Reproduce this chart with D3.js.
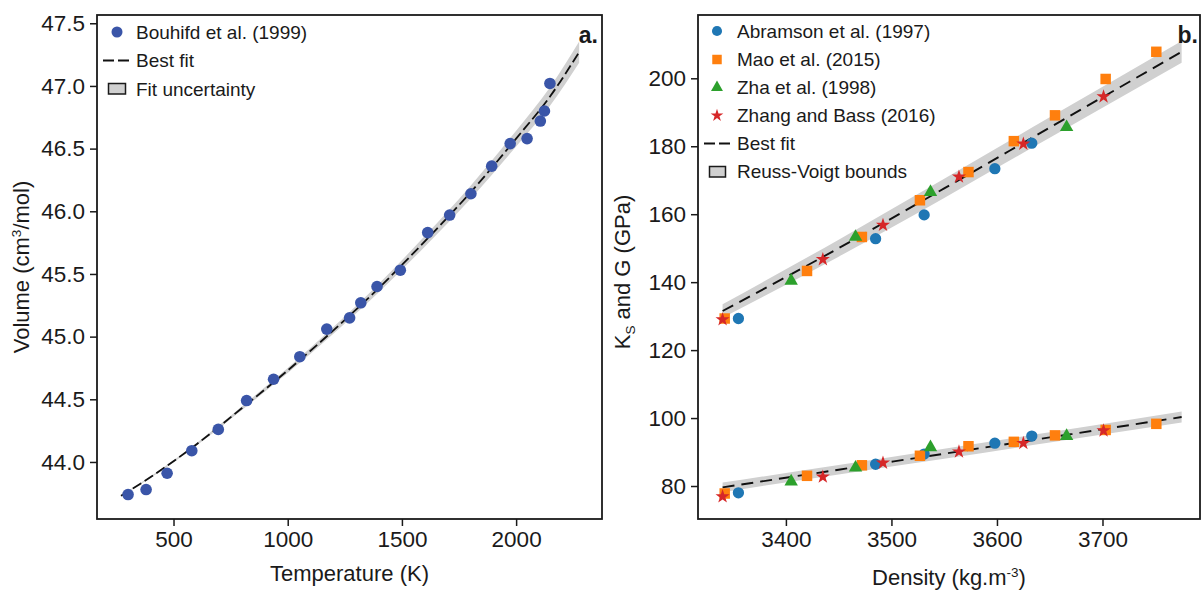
<!DOCTYPE html>
<html><head><meta charset="utf-8">
<script src="https://cdn.jsdelivr.net/npm/d3@7"></script>
<style>
html,body{margin:0;padding:0;background:#fff;}
svg text{font-family:"Liberation Sans",Arial,sans-serif;fill:#1a1a1a;}
</style></head>
<body><svg id="chart" width="1203" height="592"></svg>
<script>
// ---------- Panel a data ----------
const tempK = [301, 380, 472, 580, 696, 820, 938, 1053, 1171, 1271, 1320, 1391, 1493, 1613, 1709, 1802, 1893, 1974, 2048, 2106, 2124, 2148];
const volume = [43.74, 43.78, 43.91, 44.09, 44.26, 44.49, 44.66, 44.84, 45.06, 45.15, 45.27, 45.40, 45.53, 45.83, 45.97, 46.14, 46.36, 46.54, 46.58, 46.72, 46.80, 47.02];
const fitT = [270, 400, 600, 800, 1000, 1200, 1400, 1600, 1800, 2000, 2150, 2276];
const fitV = [43.73, 43.88, 44.14, 44.43, 44.73, 45.05, 45.39, 45.76, 46.15, 46.58, 46.92, 47.27];
const fitVerr = [0.004, 0.006, 0.010, 0.015, 0.020, 0.027, 0.034, 0.042, 0.052, 0.063, 0.074, 0.085];
const xTicksA = [500, 1000, 1500, 2000];
const yTicksA = [44.0, 44.5, 45.0, 45.5, 46.0, 46.5, 47.0, 47.5];

// ---------- Panel b data ----------
const abramsonRho = [3355, 3485, 3531, 3598, 3633];
const abramsonKs  = [129.3, 152.8, 159.8, 173.4, 180.9];
const abramsonG   = [78.0, 86.4, 89.4, 92.6, 94.7];
const maoRho = [3342, 3420, 3472, 3527, 3573, 3616, 3655, 3703, 3751];
const maoKs  = [129.3, 143.3, 153.3, 164.1, 172.4, 181.5, 189.1, 199.8, 207.8];
const maoG   = [77.8, 83.0, 86.1, 88.9, 91.7, 93.0, 94.9, 96.5, 98.3];
const zhaRho = [3405, 3466, 3537, 3666];
const zhaKs  = [140.4, 153.3, 166.5, 185.6];
const zhaG   = [81.3, 85.4, 91.4, 94.7];
const zhangRho = [3340, 3435, 3492, 3564, 3625, 3701];
const zhangKs  = [129.0, 146.7, 156.8, 171.0, 180.7, 194.6];
const zhangG   = [76.9, 82.7, 86.8, 90.1, 92.6, 96.3];
const fitRho = [3340, 3450, 3550, 3650, 3775];
const fitKs  = [131.5, 150.0, 167.6, 185.5, 207.8];
const fitKsErr = [2.0, 2.5, 2.8, 3.0, 3.2];
const fitG   = [79.6, 84.8, 89.5, 94.3, 100.3];
const fitGErr = [1.4, 1.4, 1.5, 1.5, 1.6];
const xTicksB = [3400, 3500, 3600, 3700];
const yTicksB = [80, 100, 120, 140, 160, 180, 200];

const svg = d3.select("#chart");
const BAND = "#d0d0d0";
const TICKFS = 22.5, LABELFS = 22, LEGFS = 19;

function frameAxes(g, x, y, xt, yt, xfmt, yfmt, box) {
  g.append("g").attr("transform", `translate(0,${box.b})`)
    .call(d3.axisBottom(x).tickValues(xt).tickFormat(xfmt).tickSize(7).tickPadding(5))
    .call(a => a.select(".domain").remove())
    .call(a => a.selectAll("line").attr("stroke", "#1a1a1a").attr("stroke-width", 1.5))
    .call(a => a.selectAll("text").attr("font-size", TICKFS).attr("fill", "#1a1a1a").attr("font-family", "Liberation Sans, Arial, sans-serif"));
  g.append("g").attr("transform", `translate(${box.l},0)`)
    .call(d3.axisLeft(y).tickValues(yt).tickFormat(yfmt).tickSize(7).tickPadding(5))
    .call(a => a.select(".domain").remove())
    .call(a => a.selectAll("line").attr("stroke", "#1a1a1a").attr("stroke-width", 1.5))
    .call(a => a.selectAll("text").attr("font-size", TICKFS).attr("fill", "#1a1a1a").attr("font-family", "Liberation Sans, Arial, sans-serif"));
  g.append("rect").attr("x", box.l).attr("y", box.t)
    .attr("width", box.r - box.l).attr("height", box.b - box.t)
    .attr("fill", "none").attr("stroke", "#1a1a1a").attr("stroke-width", 1.8);
}

// ================= Panel a =================
{
  const box = {l: 97, r: 602, t: 15, b: 519};
  const x = d3.scaleLinear().domain([165, 2376]).range([box.l, box.r]);
  const y = d3.scaleLinear().domain([43.545, 47.566]).range([box.b, box.t]);
  const g = svg.append("g");
  const idx = d3.range(fitT.length);
  g.append("path").datum(idx)
    .attr("d", d3.area().curve(d3.curveMonotoneX)
      .x(i => x(fitT[i])).y0(i => y(fitV[i] - fitVerr[i])).y1(i => y(fitV[i] + fitVerr[i])))
    .attr("fill", BAND);
  g.append("path").datum(idx)
    .attr("d", d3.line().curve(d3.curveMonotoneX).x(i => x(fitT[i])).y(i => y(fitV[i])))
    .attr("fill", "none").attr("stroke", "#111").attr("stroke-width", 1.8).attr("stroke-dasharray", "10,4");
  g.selectAll("circle.pt").data(tempK).join("circle")
    .attr("cx", d => x(d)).attr("cy", (d, i) => y(volume[i])).attr("r", 5.8).attr("fill", "#3a55a8");
  frameAxes(g, x, y, xTicksA, yTicksA, d3.format("d"), d3.format(".1f"), box);
  g.append("text").attr("x", (box.l + box.r) / 2).attr("y", 581).attr("text-anchor", "middle")
    .attr("font-size", LABELFS).text("Temperature (K)");
  const yl = g.append("text").attr("transform", `translate(29,${(box.t + box.b) / 2}) rotate(-90)`)
    .attr("text-anchor", "middle").attr("font-size", LABELFS);
  yl.append("tspan").text("Volume (cm");
  yl.append("tspan").attr("font-size", 13.5).attr("dy", -8).text("3");
  yl.append("tspan").attr("dy", 8).text("/mol)");
  g.append("text").attr("x", 598).attr("y", 43).attr("text-anchor", "end")
    .attr("font-size", 23).attr("font-weight", "bold").text("a.");
  // legend
  const lg = g.append("g");
  lg.append("circle").attr("cx", 117).attr("cy", 32).attr("r", 5.5).attr("fill", "#3a55a8");
  lg.append("text").attr("x", 136).attr("y", 38.5).attr("font-size", LEGFS).text("Bouhifd et al. (1999)");
  lg.append("line").attr("x1", 103).attr("x2", 131).attr("y1", 60.5).attr("y2", 60.5)
    .attr("stroke", "#111").attr("stroke-width", 1.8).attr("stroke-dasharray", "11,4");
  lg.append("text").attr("x", 136).attr("y", 67).attr("font-size", LEGFS).text("Best fit");
  lg.append("rect").attr("x", 108.5).attr("y", 83.5).attr("width", 17).attr("height", 10.5)
    .attr("fill", BAND).attr("stroke", "#1a1a1a").attr("stroke-width", 1.5);
  lg.append("text").attr("x", 136).attr("y", 95.5).attr("font-size", LEGFS).text("Fit uncertainty");
}

// ================= Panel b =================
{
  const box = {l: 698, r: 1200, t: 15, b: 519};
  const x = d3.scaleLinear().domain([3316.7, 3792.4]).range([box.l, box.r]);
  const y = d3.scaleLinear().domain([70.29, 218.63]).range([box.b, box.t]);
  const g = svg.append("g");
  const idx = d3.range(fitRho.length);
  [[fitKs, fitKsErr], [fitG, fitGErr]].forEach(([v, e]) => {
    g.append("path").datum(idx)
      .attr("d", d3.area().curve(d3.curveMonotoneX)
        .x(i => x(fitRho[i])).y0(i => y(v[i] - e[i])).y1(i => y(v[i] + e[i])))
      .attr("fill", BAND);
    g.append("path").datum(idx)
      .attr("d", d3.line().curve(d3.curveMonotoneX).x(i => x(fitRho[i])).y(i => y(v[i])))
      .attr("fill", "none").attr("stroke", "#111").attr("stroke-width", 1.9).attr("stroke-dasharray", "12,7");
  });
  const series = [
    {rho: abramsonRho, ks: abramsonKs, g: abramsonG, color: "#1f77b4", sym: d3.symbolCircle, size: 100, name: "Abramson et al. (1997)"},
    {rho: maoRho, ks: maoKs, g: maoG, color: "#ff7f0e", sym: d3.symbolSquare, size: 110, name: "Mao et al. (2015)"},
    {rho: zhaRho, ks: zhaKs, g: zhaG, color: "#2ca02c", sym: d3.symbolTriangle, size: 78, name: "Zha et al. (1998)"},
    {rho: zhangRho, ks: zhangKs, g: zhangG, color: "#d62728", sym: d3.symbolStar, size: 62, name: "Zhang and Bass (2016)"}
  ];
  series.forEach(s => {
    const sym = d3.symbol().type(s.sym).size(s.size);
    [s.ks, s.g].forEach(vals => {
      g.append("g").selectAll("path").data(s.rho).join("path")
        .attr("d", sym)
        .attr("transform", (d, i) => `translate(${x(d)},${y(vals[i])})`)
        .attr("fill", s.color);
    });
  });
  frameAxes(g, x, y, xTicksB, yTicksB, d3.format("d"), d3.format("d"), box);
  const xl = g.append("text").attr("x", (box.l + box.r) / 2).attr("y", 585).attr("text-anchor", "middle")
    .attr("font-size", LABELFS);
  xl.append("tspan").text("Density (kg.m");
  xl.append("tspan").attr("font-size", 13.5).attr("dy", -8).text("-3");
  xl.append("tspan").attr("dy", 8).text(")");
  const yl = g.append("text").attr("transform", `translate(630,${(box.t + box.b) / 2 + 5}) rotate(-90)`)
    .attr("text-anchor", "middle").attr("font-size", LABELFS);
  yl.append("tspan").text("K");
  yl.append("tspan").attr("font-size", 13.5).attr("dy", 5).text("S");
  yl.append("tspan").attr("dy", -5).text(" and G (GPa)");
  g.append("text").attr("x", 1198).attr("y", 43).attr("text-anchor", "end")
    .attr("font-size", 23).attr("font-weight", "bold").text("b.");
  // legend
  const lg = g.append("g");
  const rowY = [31, 59.5, 87.5, 115.5];
  series.forEach((s, i) => {
    const sz = s.sym === d3.symbolCircle ? 80 : (s.sym === d3.symbolSquare ? 90 : (s.sym === d3.symbolStar ? 50 : 62));
    lg.append("path").attr("d", d3.symbol().type(s.sym).size(sz)())
      .attr("transform", `translate(717,${rowY[i]})`).attr("fill", s.color);
    lg.append("text").attr("x", 737).attr("y", rowY[i] + 6.5).attr("font-size", LEGFS).text(s.name);
  });
  lg.append("line").attr("x1", 704).attr("x2", 732).attr("y1", 143.5).attr("y2", 143.5)
    .attr("stroke", "#111").attr("stroke-width", 1.8).attr("stroke-dasharray", "11,4");
  lg.append("text").attr("x", 737).attr("y", 150).attr("font-size", LEGFS).text("Best fit");
  lg.append("rect").attr("x", 709.5).attr("y", 166.5).attr("width", 16).attr("height", 10.5)
    .attr("fill", BAND).attr("stroke", "#1a1a1a").attr("stroke-width", 1.5);
  lg.append("text").attr("x", 737).attr("y", 178).attr("font-size", LEGFS).text("Reuss-Voigt bounds");
}
</script></body></html>
